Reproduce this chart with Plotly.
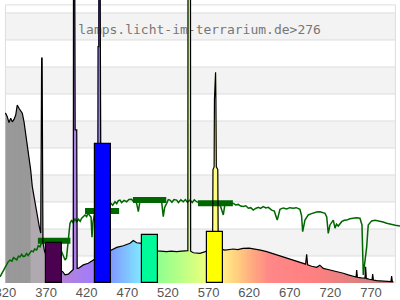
import numpy as np
import plotly.graph_objects as go

# ---------------- data ----------------
spec_nm = [320, 322.3, 324.4, 326.5, 328.5, 330.6, 332.7, 334.6, 336.7, 338.8, 340.8, 342.9, 345.0, 347.0,
           349.0, 351.1, 353.1, 356.4, 359.0, 361.7, 363.5, 363.9, 364.6, 365.2, 365.5, 366.2, 368.0, 372.0,
           378.0, 384.0, 390.5, 393.4, 397.4, 401.6, 403.6, 404.0, 405.4, 405.8, 407.8, 408.3, 409.7, 415.9,
           422.0, 428.2, 433.6, 434.0, 435.0, 435.2, 436.6, 436.8, 437.4, 437.7, 444.0, 450.0, 457.0, 465.1,
           470.0, 473.4, 477.4, 481.6, 487.7, 495.0, 502.0, 507.0, 512.0, 518.5, 524.0, 530.8, 537.0, 543.0,
           544.6, 545.0, 547.6, 548.0, 551.3, 559.5, 565.0, 571.0, 575.0, 575.5, 576.9, 577.3, 577.8, 578.7,
           579.1, 579.6, 581.4, 582.0, 590.3, 600.5, 606.0, 612.4, 620.0, 627.2, 634.0, 641.6, 648.0, 653.9,
           660.0, 666.2, 672.0, 678.5, 684.0, 689.5, 690.8, 692.0, 697.0, 703.1, 707.0, 711.3, 717.0, 723.6,
           729.0, 735.9, 742.0, 748.2, 751.6, 752.4, 753.2, 758.0, 762.6, 763.4, 764.2, 768.0, 771.3, 772.1,
           772.9, 777.0, 783.0, 789.3, 794.6, 795.4, 796.2, 797.4]
spec_val = [63.0, 61.6, 59.4, 61.0, 59.7, 60.6, 62.2, 65.9, 64.7, 63.8, 62.9, 59.7, 55.4, 51.1,
            46.8, 41.9, 35.7, 29.5, 25.0, 20.9, 18.5, 57.8, 83.3, 83.3, 59.7, 15.0, 12.0, 8.5,
            6.5, 5.2, 4.2, 3.0, 3.3, 4.6, 5.0, 250, 250, 56.7, 56.7, 5.4, 5.4, 6.7,
            7.3, 8.5, 9.5, 87.5, 87.5, 250, 250, 87.5, 87.5, 10.5, 11.2, 12.2, 13.2, 13.8,
            14.3, 14.7, 15.7, 14.9, 14.7, 13.5, 12.4, 11.9, 11.7, 11.6, 11.8, 11.6, 11.8, 11.9,
            12.0, 250, 250, 11.8, 11.2, 11.0, 11.5, 12.0, 12.5, 42.0, 43.0, 68.0, 78.0, 78.0,
            68.0, 43.0, 42.0, 12.8, 12.2, 12.6, 12.4, 12.8, 12.9, 12.6, 12.2, 11.6, 11.0, 10.4,
            9.8, 9.1, 8.6, 8.1, 7.6, 7.0, 10.6, 6.7, 6.2, 5.8, 6.6, 5.4, 5.0, 4.6,
            4.1, 3.6, 3.0, 2.3, 2.2, 4.8, 2.1, 1.9, 1.8, 6.0, 1.7, 1.4, 1.2, 3.3,
            1.1, 0.9, 0.7, 0.5, 0.5, 2.6, 0.5, 0.5]

green_nm = [313.4, 315.5, 317.4, 319.5, 321.6, 323.5, 325.7, 328, 330, 331.8, 334, 336, 338, 340, 342, 344.1,
            346, 348, 350.3, 352, 354.3, 356, 358.5, 360.5, 362.6, 364.5, 366.6, 370, 374.9, 378, 382.3, 385,
            388.4, 391, 393.4, 395.2, 397.4, 399.5, 401.6, 403.5, 405.5, 407.8, 410, 412, 413.9, 416, 418, 420,
            421.7, 423.5, 425.4, 426.6, 427.8, 430.3, 435, 440, 445, 450, 452, 454.9, 457, 459, 461, 463, 466,
            469.3, 472, 475.4, 477.5, 479.5, 481.5, 483.6, 485.7, 488, 491.8, 494, 498, 501, 504.2, 507, 510.3,
            512.5, 514.3, 516, 518.5, 520.5, 522.6, 525, 527.5, 530.8, 533, 536, 539, 541.5, 544, 547.2, 550,
            552.5, 555.4, 559.5, 565, 571.7, 578, 584, 588.2, 590.3, 595, 600.5, 603.5, 606.6, 609.5, 612.8,
            616, 619, 622, 625.1, 628, 631.3, 634, 637.4, 640.5, 643.6, 647.8, 651, 654.6, 656.5, 658, 662,
            666.2, 670, 674.3, 678, 682.5, 684.5, 685.9, 688.7, 692.8, 696, 699, 703, 707.2, 710, 713.4, 715.5,
            717.4, 719.5, 721.5, 723.6, 725.7, 727.5, 729.7, 733.9, 737, 740.1, 744, 748.2, 752, 756.4, 758.9,
            760.5, 762.6, 764.7, 766.6, 770.8, 775, 781, 785, 789.3, 792, 795.4, 800, 805.7]
green_val = [2.3, 3.5, 4.2, 5.6, 6.7, 7.9, 8.5, 8.1, 9.4, 9.1, 8.6, 9.9, 9.7, 10.6, 9.8, 10.0,
             10.9, 10.2, 11.0, 11.9, 11.6, 12.6, 12.2, 13.8, 13.4, 15.0, 15.9, 15.0, 15.2, 14.5, 14.1, 13.5,
             12.2, 10.5, 8.5, 9.3, 15.9, 22.1, 23.3, 22.2, 23.8, 22.7, 23.6, 22.8, 24.0, 24.8, 25.2, 24.6,
             25.9, 25.1, 24.4, 17.0, 22.6, 26.3, 27.5, 28.3, 28.8, 29.5, 28.8, 30.1, 29.4, 30.5, 30.7, 29.8, 30.6,
             30.1, 30.9, 31.0, 30.2, 30.7, 29.5, 26.4, 30.4, 31.4, 31.1, 30.3, 30.4, 31.5, 31.1, 30.2, 30.7,
             29.6, 24.6, 28.0, 29.5, 30.9, 30.7, 29.9, 30.9, 30.7, 29.8, 30.8, 30.1, 30.9, 29.9, 30.7, 29.8,
             30.8, 30.1, 29.5, 29.8, 29.6, 29.9, 29.2, 25.2, 29.3, 29.8, 29.5, 28.9, 29.1, 28.5, 28.3,
             28.6, 27.7, 27.9, 27.0, 27.6, 28.0, 27.6, 28.3, 27.8, 28.0, 27.0, 26.6, 23.3, 25.5, 27.3, 27.8,
             27.4, 27.9, 27.7, 27.9, 27.3, 25.0, 19.0, 23.3, 25.2, 25.6, 26.0, 26.3, 26.4, 26.0, 25.8, 24.5,
             18.4, 21.5, 22.6, 23.3, 20.3, 21.8, 21.1, 22.7, 23.2, 23.3, 23.8, 24.0, 24.2, 24.0, 21.5,
             3.0, 8.5, 13.4, 21.5, 23.0, 23.2, 23.0, 22.6, 22.1, 21.9, 21.5, 21.4, 21.1]

avg_lo = [360, 418, 477, 557]
avg_hi = [400, 460, 518, 600]
avg_val = [15.6, 26.7, 30.7, 29.5]

bar_center = [380, 440, 498, 578]
bar_val = [14.8, 51.5, 17.8, 18.9]
bar_colors = ['#4b0050', '#0000ff', '#00fa9a', '#ffff00']

tick_vals = [320, 370, 420, 470, 520, 570, 620, 670, 720, 770]
tick_text = [str(v) for v in tick_vals]
watermark = "lamps.licht-im-terrarium.de>276"

# ---------------- style helpers ----------------
anchors = [(320, '#999999'), (350.5, '#999999'), (351, '#b1a9b1'), (370, '#b1a9b1'), (371, '#b488d8'),
           (395, '#b282dc'), (430, '#a07cff'), (445, '#8090ff'), (455, '#80a4ff'), (470, '#80c4ff'),
           (487, '#80e8ff'), (492, '#80ffc0'), (508, '#90ff90'), (530, '#b0ff88'), (555, '#d8ff80'),
           (570, '#f4ff80'), (578, '#ffff80'), (590, '#ffe888'), (605, '#ffd080'), (625, '#ffa880'),
           (645, '#ff8888'), (700, '#ff8080'), (740, '#e88080'), (770, '#d08080'), (800, '#b87878')]
a_w = np.array([a[0] for a in anchors])
a_rgb = np.array([[int(a[1][i:i + 2], 16) for i in (1, 3, 5)] for a in anchors], dtype=float)


def wl_color(w):
    r, g, b = (np.interp(w, a_w, a_rgb[:, k]) for k in range(3))
    return 'rgb(%d,%d,%d)' % (round(r), round(g), round(b))


fig = go.Figure()

# watermark text (below the data)
fig.add_trace(go.Scatter(x=[559], y=[93.3], mode='text', text=[watermark],
                         textfont=dict(family='DejaVu Sans Mono', size=13, color='#777777'),
                         hoverinfo='skip', showlegend=False, zorder=-5))

# gradient fill below the spectrum (pieces overlap and follow the outline to hide seams)
spec_end = spec_nm[-1]
for i in range(len(spec_nm) - 1):
    a, b = spec_nm[i], spec_nm[i + 1]
    va, vb = spec_val[i], spec_val[i + 1]
    n = max(1, int(np.ceil((b - a) / 1.5)))
    for k in range(n):
        x0 = a + (b - a) * k / n
        x1 = a + (b - a) * (k + 1) / n
        y0 = va + (vb - va) * k / n
        y1 = va + (vb - va) * (k + 1) / n
        xe = min(x1 + 1.2, spec_end)
        ye = float(np.interp(xe, spec_nm, spec_val))
        fig.add_trace(go.Scatter(x=[x0, x0, x1, xe, xe, x0], y=[0, y0, y1, ye, 0, 0],
                                 mode='lines', fill='toself', fillcolor=wl_color((x0 + x1) / 2),
                                 line=dict(width=0), hoverinfo='skip', showlegend=False, zorder=0))

# green curve
fig.add_trace(go.Scatter(x=green_nm, y=green_val, mode='lines', line=dict(color='#006600', width=1.5),
                         hoverinfo='skip', showlegend=False, zorder=1))
# green averages
for lo, hi, v in zip(avg_lo, avg_hi, avg_val):
    fig.add_trace(go.Scatter(x=[lo, hi], y=[v, v], mode='lines', line=dict(color='#006600', width=6),
                             hoverinfo='skip', showlegend=False, zorder=1))

# spectrum outline
fig.add_trace(go.Scatter(x=spec_nm, y=spec_val, mode='lines', line=dict(color='black', width=1.2),
                         hoverinfo='skip', showlegend=False, zorder=2))

# bars
fig.add_trace(go.Bar(x=bar_center, y=bar_val, width=20,
                     marker=dict(color=bar_colors, line=dict(color='black', width=1.2)),
                     hoverinfo='skip', showlegend=False, zorder=10))

# background bands and grid
shapes = []
for lo in range(10, 100, 20):
    shapes.append(dict(type='rect', xref='x', yref='y', x0=320, x1=800, y0=lo, y1=lo + 10,
                       fillcolor='#f3f3f3', line=dict(width=0), layer='below'))
for g in range(0, 101, 10):
    shapes.append(dict(type='line', xref='x', yref='y', x0=320, x1=800, y0=g, y1=g,
                       line=dict(color='#dddddd', width=1), layer='below'))
shapes.append(dict(type='line', xref='x', yref='y', x0=320, x1=800, y0=103, y1=103,
                   line=dict(color='#dddddd', width=1), layer='below'))
for xv in (320, 800):
    shapes.append(dict(type='line', xref='x', yref='y', x0=xv, x1=xv, y0=0, y1=103,
                       line=dict(color='#dddddd', width=1), layer='below'))

fig.update_layout(
    width=400, height=300,
    margin=dict(l=0, r=0, t=0, b=17, autoexpand=False),
    plot_bgcolor='white', paper_bgcolor='white',
    shapes=shapes,
    bargap=0,
    xaxis=dict(range=[313.35, 805.7], showgrid=False, zeroline=False, showline=False,
               tickmode='array', tickvals=tick_vals, ticktext=tick_text, ticks='',
               tickfont=dict(family='Liberation Sans, Arial, sans-serif', size=13, color='#555555'),
               ticklabeloverflow='allow', automargin=False, fixedrange=True),
    yaxis=dict(range=[0, 104.8], visible=False, automargin=False, fixedrange=True),
)

fig.write_html("out.html")
